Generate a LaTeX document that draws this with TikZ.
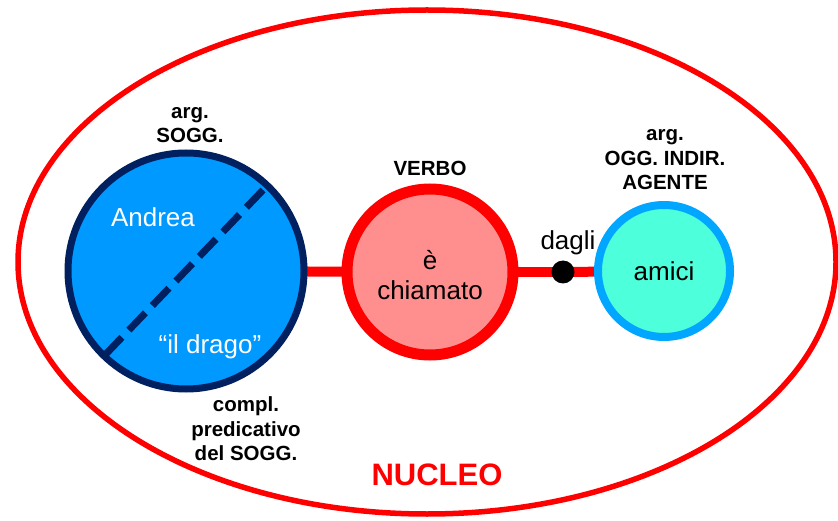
\documentclass[tikz,border=0pt]{standalone}
\usepackage{fontspec}
\setmainfont{Liberation Sans}
\usetikzlibrary{backgrounds}
\definecolor{nucred}{RGB}{255,0,0}
\definecolor{subjfill}{RGB}{0,153,255}
\definecolor{subjline}{RGB}{0,32,96}
\definecolor{verbfill}{RGB}{255,143,143}
\definecolor{agfill}{RGB}{77,255,219}
\definecolor{agline}{RGB}{0,166,255}
\tikzset{
  lbl/.style={font=\fontsize{20.5}{24.5}\selectfont\bfseries, align=center, inner sep=0pt},
  wtxt/.style={font=\fontsize{26}{30}\selectfont, align=center, inner sep=0pt},
  link/.style={draw=nucred, line width=10pt},
  ball/.style={circle, inner sep=0pt},
}
\begin{document}
\begin{tikzpicture}[x=1pt,y=-1pt]
\useasboundingbox (0,0) rectangle (838,521);
\clip (0,0) rectangle (838,521);
% nucleo ellipse
\draw[nucred, line width=5.5pt] (427,262) ellipse [x radius=409, y radius=252];
% circles
\node (subj) [ball, minimum size=236pt, fill=subjfill, draw=subjline, line width=7pt] at (186,271) {};
\node (verb) [ball, minimum size=166pt, fill=verbfill, draw=nucred, line width=11pt] at (430,272) {};
\node (ag) [ball, minimum size=132pt, fill=agfill, draw=agline, line width=8pt] at (664,271) {};
\node (dot) [ball, minimum size=23pt, fill=black] at (563,272) {};
% connectors behind the circles
\begin{scope}[on background layer]
\draw[link] (subj.center) -- (verb.center);
\draw[link] (verb.center) -- (dot.center);
\draw[link] (dot.center) -- (ag.center);
\end{scope}
% diagonal
\coordinate (d1) at (263,190);
\coordinate (d2) at (105,355);
\draw[subjline, line width=7pt, dash pattern=on 24pt off 10pt] (d1) -- (d2);
% texts in circles
\node[wtxt, text=white] (andrea) at (153,217) {Andrea};
\node[wtxt, text=white] (drago) at (210,347) {“il drago”};
\node[wtxt] (verbtxt) at (430,275) {è\\chiamato};
\node[wtxt] (amici) at (664,271) {amici};
\node[wtxt] (dagli) at (568,243) {dagli};
% labels
\node[lbl] (sogg) at (190,125) {arg.\\SOGG.};
\node[lbl] (verbo) at (430,168) {VERBO};
\node[lbl] (oggind) at (665,160) {arg.\\OGG. INDIR.\\AGENTE};
\node[lbl] (compl) at (246,429) {compl.\\predicativo\\del SOGG.};
\node[lbl, text=nucred, font=\fontsize{31}{36}\selectfont\bfseries] (nucleo) at (437,475) {NUCLEO};
\end{tikzpicture}
\end{document}
